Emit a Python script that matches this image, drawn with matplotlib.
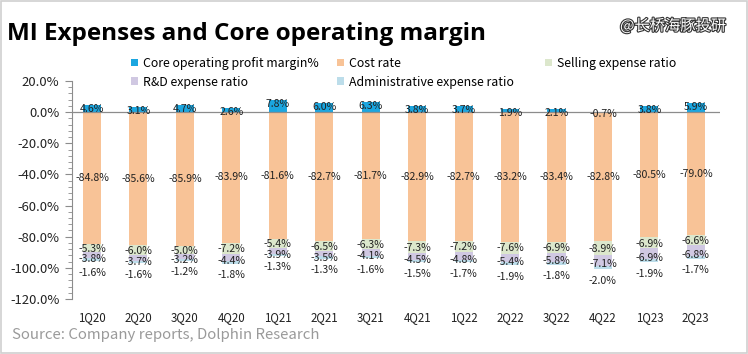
import matplotlib
matplotlib.use("Agg")
import matplotlib.pyplot as plt
import matplotlib.patheffects as pe
from matplotlib.ticker import MultipleLocator, FuncFormatter
import numpy as np

plt.rcParams['font.family'] = ['Noto Sans CJK SC', 'DejaVu Sans']

quarters = ["1Q20", "2Q20", "3Q20", "4Q20", "1Q21", "2Q21", "3Q21", "4Q21",
            "1Q22", "2Q22", "3Q22", "4Q22", "1Q23", "2Q23"]
margin = [4.6, 3.1, 4.7, 2.6, 7.8, 6.0, 6.3, 3.8, 3.7, 1.9, 2.1, -0.7, 3.8, 5.9]
cost = [-84.8, -85.6, -85.9, -83.9, -81.6, -82.7, -81.7, -82.9, -82.7, -83.2, -83.4, -82.8, -80.5, -79.0]
selling = [-5.3, -6.0, -5.0, -7.2, -5.4, -6.5, -6.3, -7.3, -7.2, -7.6, -6.9, -8.9, -6.9, -6.6]
rnd = [-3.8, -3.7, -3.2, -4.4, -3.9, -3.5, -4.1, -4.5, -4.8, -5.4, -5.8, -7.1, -6.9, -6.8]
admin = [-1.6, -1.6, -1.2, -1.8, -1.3, -1.3, -1.6, -1.5, -1.7, -1.9, -1.8, -2.0, -1.9, -1.7]

c_margin = "#1BA6E0"
c_cost = "#F8C397"
c_sell = "#DCE7CC"
c_rnd = "#D0C8E2"
c_admin = "#BCDDEA"

fig = plt.figure(figsize=(7.48, 3.54), dpi=100)
ax = fig.add_axes([72 / 748, 1 - 299 / 354, 648 / 748, 218 / 354])

x = np.arange(len(quarters))
w = 0.39
margin = np.array(margin); cost = np.array(cost); selling = np.array(selling)
rnd = np.array(rnd); admin = np.array(admin)

b_m = ax.bar(x, margin, w, color=c_margin, label="Core operating profit margin%", zorder=2)
b_c = ax.bar(x, cost, w, color=c_cost, label="Cost rate", zorder=2)
b_s = ax.bar(x, selling, w, bottom=cost, color=c_sell, label="Selling expense ratio", zorder=2)
b_r = ax.bar(x, rnd, w, bottom=cost + selling, color=c_rnd, label="R&D expense ratio", zorder=2)
b_a = ax.bar(x, admin, w, bottom=cost + selling + rnd, color=c_admin,
             label="Administrative expense ratio", zorder=2)

fs = 7.6
tc = "#222222"
for i in range(len(x)):
    ypos = margin[i] - 2.5 if margin[i] > 0 else margin[i] - 0.8
    ax.text(x[i], ypos, f"{margin[i]:.1f}%", ha="center", va="center", fontsize=fs, color=tc, zorder=3)
    ax.text(x[i], cost[i] / 2, f"{cost[i]:.1f}%", ha="center", va="center", fontsize=fs, color=tc, zorder=3)
    ax.text(x[i], cost[i] + selling[i] / 2 - 0.5, f"{selling[i]:.1f}%", ha="center", va="center",
            fontsize=fs, color=tc, zorder=3)
    ax.text(x[i], cost[i] + selling[i] + rnd[i] / 2 - 2.5, f"{rnd[i]:.1f}%", ha="center", va="center",
            fontsize=fs, color=tc, zorder=3)
    end = cost[i] + selling[i] + rnd[i] + admin[i]
    ax.text(x[i], end - 7.5, f"{admin[i]:.1f}%", ha="center", va="center", fontsize=fs, color=tc, zorder=3)

ax.set_ylim(-120, 20)
ax.set_xlim(-0.43, len(x) - 1 + 0.52)
ax.axhline(0, color="#8C8C8C", lw=0.9, zorder=2.5)
ax.yaxis.set_major_locator(MultipleLocator(20))
ax.yaxis.set_minor_locator(MultipleLocator(4))
ax.yaxis.set_major_formatter(FuncFormatter(lambda v, p: f"{v:.1f}%"))
for s in ["top", "right", "bottom"]:
    ax.spines[s].set_visible(False)
ax.spines["left"].set_color("#8C8C8C")
ax.tick_params(axis="y", which="major", length=5, color="#8C8C8C", labelsize=9.4,
               labelcolor="#222222", pad=4)
ax.tick_params(axis="y", which="minor", length=3, color="#8C8C8C")
ax.set_xticks(x)
ax.set_xticklabels(quarters, fontsize=8.3, color="#222222")
ax.tick_params(axis="x", length=0, pad=9)

lg_kw = dict(loc="upper left", frameon=False, fontsize=8.9, handlelength=0.55, handleheight=0.55,
             handletextpad=0.4, labelspacing=0.45, borderpad=0, borderaxespad=0)
l1 = fig.legend(handles=[b_m, b_r], bbox_to_anchor=(131 / 748, 1 - 57 / 354), **lg_kw)
l2 = fig.legend(handles=[b_c, b_a], bbox_to_anchor=(337 / 748, 1 - 57 / 354), **lg_kw)
l3 = fig.legend(handles=[b_s], bbox_to_anchor=(545 / 748, 1 - 57 / 354), **lg_kw)

fig.text(7 / 748, 1 - 40 / 354, "MI Expenses and Core operating margin", fontsize=17.5, fontweight="bold",
         family=["Open Sans", "DejaVu Sans"], color="black", va="baseline")
fig.text(673 / 748, 1 - 26 / 354, "@长桥海豚投研", fontsize=11, color="white", va="center", ha="center",
         path_effects=[pe.withStroke(linewidth=1.6, foreground="#333333")])
fig.text(12 / 748, 1 - 335 / 354, "Source: Company reports, Dolphin Research", fontsize=10.8,
         color="#9A9A9A", va="center")

border = plt.Rectangle((0.002, 0.003), 0.996, 0.994, transform=fig.transFigure, fill=False,
                       edgecolor="#D0D0D0", lw=1.2)
fig.patches.append(border)

fig.savefig("out.png", dpi=100)
